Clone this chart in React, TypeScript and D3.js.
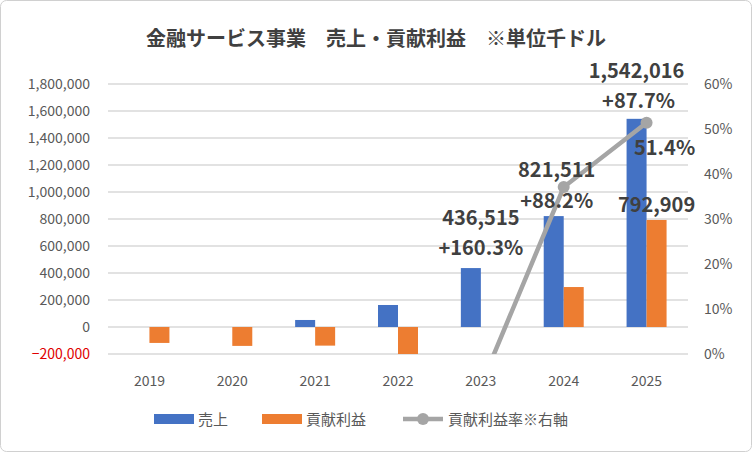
import React from "react";
import * as d3 from "d3";

const years = ["2019", "2020", "2021", "2022", "2023", "2024", "2025"];
const sales = [0, 0, 52000, 163000, 436515, 821511, 1542016];
const profit = [-118000, -140000, -138000, -200000, -30000, 296000, 792909];
const ratio: (number | null)[] = [null, null, null, null, -0.07, 0.371, 0.514];
const leftTicks = [-200000, 0, 200000, 400000, 600000, 800000, 1000000, 1200000, 1400000, 1600000, 1800000];
const rightTicks = [0, 0.1, 0.2, 0.3, 0.4, 0.5, 0.6];

const W = 752, H = 452;
const m = { left: 108, right: 688, top: 84, bottom: 354 };
const font = "'Noto Sans CJK JP', 'Liberation Sans', sans-serif";

export default function App() {
  const x = d3.scaleBand().domain(years).range([m.left, m.right]).padding(0);
  const y = d3.scaleLinear().domain([-200000, 1800000]).range([m.bottom, m.top]);
  const y2 = d3.scaleLinear().domain([0, 0.6]).range([m.bottom, m.top]);
  const bw = 20;
  const cx = (yr: string) => (x(yr) as number) + x.bandwidth() / 2;
  const pts = years.map((yr, i) => ({ yr, v: ratio[i] })).filter(p => p.v !== null);
  const line = d3.line<{ yr: string; v: number | null }>().x(p => cx(p.yr)).y(p => y2(p.v as number));
  const lbl = { fontFamily: font, fontWeight: 700, fontSize: 20, fill: "#404040", textAnchor: "middle" as const };
  return (
    <svg width={W} height={H} style={{ position: "absolute", left: 0, top: 0 }}>
      <defs>
        <clipPath id="c"><rect x={m.left} y={m.top - 30} width={m.right - m.left} height={m.bottom - m.top + 30} /></clipPath>
      </defs>
      <rect x={0.5} y={0.5} width={W - 1} height={H - 1} rx={6} fill="#fff" stroke="#d0d0d0" />
      <text x={376} y={46} textAnchor="middle" fontFamily={font} fontWeight={700} fontSize={20} fill="#404040">
        金融サービス事業　売上・貢献利益　※単位千ドル
      </text>
      {leftTicks.map(t => (
        <g key={t}>
          <line x1={m.left} x2={m.right} y1={y(t)} y2={y(t)} stroke="#d9d9d9" strokeWidth={1.3} />
          <text x={90} y={y(t) + 5} textAnchor="end" fontFamily={font} fontSize={14} fill={t < 0 ? "#e00000" : "#595959"}>
            {d3.format(",")(t)}
          </text>
        </g>
      ))}
      {rightTicks.map(t => (
        <text key={t} x={704} y={y2(t) + 5} fontFamily={font} fontSize={14} fill="#595959">{d3.format(".0%")(t)}</text>
      ))}
      {years.map((yr, i) => (
        <g key={yr}>
          {sales[i] > 0 && <rect x={cx(yr) - bw} y={y(sales[i])} width={bw} height={y(0) - y(sales[i])} fill="#4472c4" />}
          {Math.abs(profit[i]) > 40000 && (
            <rect x={cx(yr)} y={Math.min(y(0), y(profit[i]))} width={bw} height={Math.abs(y(profit[i]) - y(0))} fill="#ed7d31" />
          )}
          <text x={cx(yr)} y={386} textAnchor="middle" fontFamily={font} fontSize={14} fill="#595959">{yr}</text>
        </g>
      ))}
      <g clipPath="url(#c)">
        <path d={line(pts) as string} fill="none" stroke="#a5a5a5" strokeWidth={4.5} strokeLinecap="round" />
        {pts.filter(p => (p.v as number) >= 0).map(p => (
          <circle key={p.yr} cx={cx(p.yr)} cy={y2(p.v as number)} r={6} fill="#a5a5a5" />
        ))}
      </g>
      <text {...lbl} x={cx("2023")} y={y(436515) - 43}>436,515</text>
      <text {...lbl} x={cx("2023")} y={y(436515) - 13}>+160.3%</text>
      <text {...lbl} x={cx("2024") - 7} y={y(821511) - 39}>821,511</text>
      <text {...lbl} x={cx("2024") - 7} y={y(821511) - 8}>+88.2%</text>
      <text {...lbl} x={cx("2025") - 10} y={y(1542016) - 41}>1,542,016</text>
      <text {...lbl} x={cx("2025") - 8} y={y(1542016) - 11}>+87.7%</text>
      <text {...lbl} x={cx("2025") + 18} y={y2(0.514) + 32}>51.4%</text>
      <text {...lbl} x={cx("2025") + 10} y={y(792909) - 8}>792,909</text>
      <g fontFamily={font} fontSize={15} fill="#595959">
        <rect x={154} y={414} width={40} height={10} fill="#4472c4" />
        <text x={198} y={425}>売上</text>
        <rect x={262} y={414} width={40} height={10} fill="#ed7d31" />
        <text x={306} y={425}>貢献利益</text>
        <line x1={403} x2={443} y1={419} y2={419} stroke="#a5a5a5" strokeWidth={4.5} />
        <circle cx={423} cy={419} r={6} fill="#a5a5a5" />
        <text x={448} y={425}>貢献利益率※右軸</text>
      </g>
    </svg>
  );
}
